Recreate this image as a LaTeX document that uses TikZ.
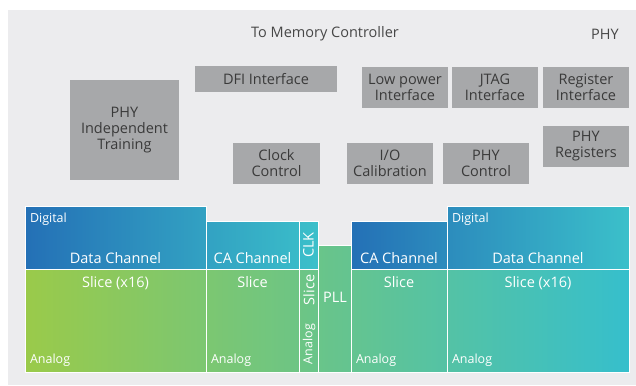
\documentclass[tikz,border=0pt]{standalone}
\usepackage{fontspec}
\setmainfont{Open Sans}
\usetikzlibrary{positioning}

\definecolor{phyback}{HTML}{ECECEE}
\definecolor{boxgray}{HTML}{A7A8AA}
\definecolor{boxtext}{HTML}{3A3A3A}
\definecolor{toptext}{HTML}{474747}
\definecolor{digA}{HTML}{2470B6}
\definecolor{digB}{HTML}{3BC0CA}
\definecolor{anaA}{HTML}{9ACA4A}
\definecolor{anaB}{HTML}{36BFCC}

\begin{document}
\begin{tikzpicture}[
        x=1pt, y=-1pt,
        every node/.style={inner sep=0pt, outer sep=0pt},
        big/.style={font=\fontsize{14.5}{16}\selectfont},
        small/.style={font=\fontsize{12.5}{14}\selectfont}
    ]
    %\usetikzlibrary{positioning}

    \tikzstyle{block} = [
        anchor = north west,
        fill = boxgray,
        text = boxtext,
        align = center,
        big
    ]
    \tikzstyle{chan} = [
        anchor = north west,
        draw = white,
        line width = 0.8pt
    ]
    \tikzstyle{lbl} = [
        text = white,
        big
    ]
    \tikzstyle{tag} = [
        text = white,
        small
    ]

    \useasboundingbox (0,0) rectangle (636,385);
    \fill[phyback] (8,10) rectangle (636,385);

    \node [big, text=toptext] (tomc) at (325,34) {To Memory Controller};
    \node [big, text=toptext] (phy) at (605,34) {PHY};

    % controller side blocks
    \node [block, minimum width=109pt, minimum height=100pt] (training) at (70,80) {PHY\\Independent\\Training};
    \node [block, minimum width=142pt, minimum height=26pt] (dfi) at (195,66) {DFI Interface};
    \node [block, minimum width=86pt, minimum height=41pt] (lowpower) at (362,67) {Low power\\Interface};
    \node [block, minimum width=86pt, minimum height=41pt, right=4pt of lowpower] (jtag) {JTAG\\Interface};
    \node [block, minimum width=86pt, minimum height=41pt, right=5pt of jtag] (regif) {Register\\Interface};
    \node [block, minimum width=86pt, minimum height=41pt] (phyreg) at (543,126) {PHY\\Registers};
    \node [block, minimum width=87pt, minimum height=41pt] (clock) at (233,143) {Clock\\Control};
    \node [block, minimum width=86pt, minimum height=41pt] (iocal) at (347,143) {I/O\\Calibration};
    \node [block, minimum width=86pt, minimum height=41pt] (phyctl) at (443,143) {PHY\\Control};

    % digital part
    \node [chan, left color=digA, right color=digB!62!digA, minimum width=181pt, minimum height=63pt] (datadigl) at (25,206) {};
    \node [chan, left color=digB!62!digA, right color=digB!93!digA, minimum width=93pt, minimum height=48pt] (cadigl) at (206,221) {};
    \node [chan, left color=digB!93!digA, right color=digB, minimum width=19pt, minimum height=48pt] (clk) at (299,221) {};
    \node [chan, left color=digA, right color=digB!35!digA, minimum width=96pt, minimum height=48pt] (cadigr) at (351,221) {};
    \node [chan, left color=digB!35!digA, right color=digB, minimum width=182pt, minimum height=63pt] (datadigr) at (447,206) {};

    % analog part
    \node [chan, left color=anaA, right color=anaB!30!anaA, minimum width=181pt, minimum height=103pt] (dataanal) at (25,269) {};
    \node [chan, left color=anaB!30!anaA, right color=anaB!45!anaA, minimum width=93pt, minimum height=103pt] (caanal) at (206,269) {};
    \node [chan, left color=anaB!45!anaA, right color=anaB!49!anaA, minimum width=19pt, minimum height=103pt] (clkana) at (299,269) {};
    \node [chan, left color=anaB!49!anaA, right color=anaB!54!anaA, minimum width=33pt, minimum height=127pt] (pll) at (318,245) {};
    \node [chan, left color=anaB!54!anaA, right color=anaB!70!anaA, minimum width=96pt, minimum height=103pt] (caanar) at (351,269) {};
    \node [chan, left color=anaB!70!anaA, right color=anaB, minimum width=182pt, minimum height=103pt] (dataanar) at (447,269) {};

    \node [tag, anchor=base west, xshift=5pt, yshift=-16pt] at (datadigl.north west) {Digital};
    \node [tag, anchor=base west, xshift=5pt, yshift=-16pt] at (datadigr.north west) {Digital};
    \node [lbl, anchor=base, yshift=6pt] at (datadigl.south) {Data Channel};
    \node [lbl, anchor=base, yshift=6pt] at (cadigl.south) {CA Channel};
    \node [lbl, anchor=base, yshift=6pt] at (cadigr.south) {CA Channel};
    \node [lbl, anchor=base, yshift=6pt] at (datadigr.south) {Data Channel};
    \node [lbl, rotate=90] at (clk.center) {CLK};

    \node [lbl, anchor=base, yshift=-18pt] at (dataanal.north) {Slice (x16)};
    \node [lbl, anchor=base, yshift=-18pt] at (caanal.north) {Slice};
    \node [lbl, anchor=base, yshift=-18pt] at (caanar.north) {Slice};
    \node [lbl, anchor=base, yshift=-18pt] at (dataanar.north) {Slice (x16)};
    \node [lbl, rotate=90] at (309,290) {Slice};
    \node [tag, rotate=90] at (309,344) {Analog};
    \node [lbl] at (335,297) {PLL};

    \node [tag, anchor=base west, xshift=5pt, yshift=9pt] at (dataanal.south west) {Analog};
    \node [tag, anchor=base west, xshift=5pt, yshift=9pt] at (caanal.south west) {Analog};
    \node [tag, anchor=base west, xshift=5pt, yshift=9pt] at (caanar.south west) {Analog};
    \node [tag, anchor=base west, xshift=5pt, yshift=9pt] at (dataanar.south west) {Analog};
\end{tikzpicture}
\end{document}
